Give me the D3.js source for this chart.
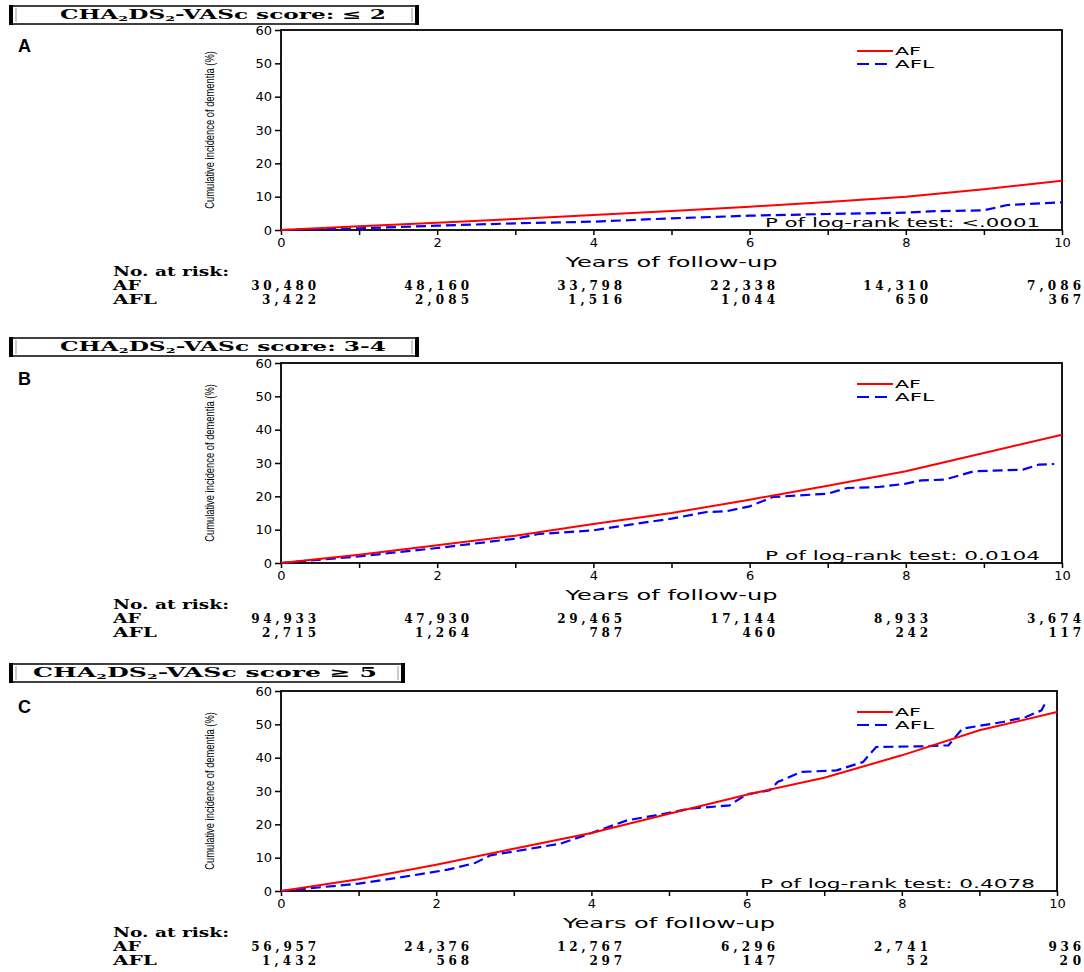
<!DOCTYPE html>
<html>
<head>
<meta charset="utf-8">
<script src="https://cdn.jsdelivr.net/npm/d3@7"></script>
<style>
  body { margin: 0; background: #fff; }
  text { fill: #000; }
</style>
</head>
<body>
<svg width="1084" height="972"></svg>
<script>
// panel labels and header endings
var panelLetters = ["A", "B", "C"];
var headerEnds = [": \u2264 2", ": 3-4", " \u2265 5"];
var pValues = ["P of log-rank test: <.0001", "P of log-rank test: 0.0104", "P of log-rank test: 0.4078"];

// x ticks / y ticks
var yearTicks = [0, 1, 2, 3, 4, 5, 6, 7, 8, 9, 10];
var pctTicks = [0, 10, 20, 30, 40, 50, 60];

// number at risk
var riskYears = [0, 2, 4, 6, 8, 10];
var riskAF_A = ["30,480", "48,160", "33,798", "22,338", "14,310", "7,086"];
var riskAFL_A = ["3,422", "2,085", "1,516", "1,044", "650", "367"];
var riskAF_B = ["94,933", "47,930", "29,465", "17,144", "8,933", "3,674"];
var riskAFL_B = ["2,715", "1,264", "787", "460", "242", "117"];
var riskAF_C = ["56,957", "24,376", "12,767", "6,296", "2,741", "936"];
var riskAFL_C = ["1,432", "568", "297", "147", "52", "20"];

// AF curves
var afYears = [0, 1, 2, 3, 4, 5, 6, 7, 8, 9, 10];
var afA = [0, 1.1, 2.2, 3.3, 4.5, 5.7, 7.0, 8.4, 10.0, 12.2, 14.8];
var afB = [0, 2.5, 5.3, 8.2, 11.7, 15.0, 19.0, 23.2, 27.5, 33.0, 38.5];
var afC = [0, 3.5, 7.9, 12.7, 17.4, 23.2, 28.9, 34.0, 40.7, 48.2, 53.7];

// AFL curves
var aflYearsA = [0, 1, 2, 3, 4, 4.5, 5, 6, 7, 8, 8.3, 9, 9.3, 10];
var aflA = [0, 0.5, 1.3, 2.0, 2.5, 3.0, 3.5, 4.3, 4.8, 5.2, 5.6, 5.9, 7.5, 8.3];
var aflYearsB = [0, 1, 2, 3, 3.3, 4, 4.55, 5, 5.45, 5.7, 6, 6.3, 7, 7.25, 7.65, 8, 8.2, 8.5, 8.87, 9.5, 9.7, 9.9];
var aflB = [0, 2.0, 4.5, 7.3, 8.7, 9.8, 11.8, 13.3, 15.3, 15.5, 17.0, 19.8, 20.8, 22.5, 22.8, 23.8, 24.8, 25.0, 27.5, 28, 29.5, 29.7];
var aflYearsC = [0, 1, 1.7, 2.15, 2.5, 2.7, 3.6, 4, 4.46, 4.83, 5.27, 5.78, 6, 6.3, 6.4, 6.7, 7.16, 7.5, 7.67, 8.24, 8.6, 8.78, 9.3, 9.6, 9.8, 9.85];
var aflC = [0, 2.2, 4.7, 6.4, 8.4, 10.7, 14.2, 17.4, 21.2, 22.7, 24.7, 25.7, 29, 30.2, 32.7, 35.7, 36.2, 38.7, 43.2, 43.4, 43.7, 48.7, 50.7, 52.2, 54.2, 56.4];

var panels = [
  { af: afA, aflX: aflYearsA, afl: aflA, rAF: riskAF_A, rAFL: riskAFL_A },
  { af: afB, aflX: aflYearsB, afl: aflB, rAF: riskAF_B, rAFL: riskAFL_B },
  { af: afC, aflX: aflYearsC, afl: aflC, rAF: riskAF_C, rAFL: riskAFL_C }
];

// layout for each panel
var plotTop = [30, 363, 691];
var plotRight = [1062, 1062, 1057];
var boxTop = [6, 338, 664];
var boxRight = [418, 418, 404];
var plotLeft = 281;
var plotH = 200;

var svg = d3.select("svg");
var sans = "'DejaVu Sans', sans-serif";
var serif = "'DejaVu Serif', serif";

panels.forEach(function (p, i) {
  var top = plotTop[i];
  var bottom = top + plotH;
  var g = svg.append("g");

  var x = d3.scaleLinear().domain([0, 10]).range([plotLeft, plotRight[i]]);
  var y = d3.scaleLinear().domain([0, 60]).range([bottom, top]);
  // columns of the risk table
  var riskX = d3.scaleLinear().domain([0, 10]).range([316, 1081]);

  // header box
  var bt = boxTop[i], br = boxRight[i];
  g.append("rect").attr("x", 10).attr("y", bt).attr("width", br - 10).attr("height", 18)
    .attr("fill", "none").attr("stroke", "#000").attr("stroke-width", 1.5);
  g.append("rect").attr("x", 9).attr("y", bt - 1).attr("width", 4).attr("height", 20).attr("fill", "#000");
  g.append("rect").attr("x", br - 3).attr("y", bt - 1).attr("width", 4).attr("height", 20).attr("fill", "#000");
  g.append("line").attr("x1", 16).attr("x2", 16).attr("y1", bt + 2).attr("y2", bt + 16)
    .attr("stroke", "#999").attr("stroke-width", 1);
  g.append("line").attr("x1", br - 6).attr("x2", br - 6).attr("y1", bt + 2).attr("y2", bt + 16)
    .attr("stroke", "#999").attr("stroke-width", 1);

  var ht = g.append("text").attr("x", i == 2 ? 33 : 60).attr("y", bt + 13)
    .attr("textLength", i == 2 ? 344 : 326).attr("lengthAdjust", "spacingAndGlyphs")
    .style("font-family", serif).style("font-weight", "bold").style("font-size", "13px");
  ht.append("tspan").text("CHA");
  ht.append("tspan").attr("dy", 2).style("font-size", "8px").text("2");
  ht.append("tspan").attr("dy", -2).text("DS");
  ht.append("tspan").attr("dy", 2).style("font-size", "8px").text("2");
  ht.append("tspan").attr("dy", -2).text("-VASc score" + headerEnds[i]);

  // panel letter
  g.append("text").attr("x", 18).attr("y", top + 22)
    .style("font-family", "'Liberation Sans', Arial, sans-serif").style("font-weight", "bold")
    .style("font-size", "18px").text(panelLetters[i]);

  // axes
  var xAxis = g.append("g").attr("transform", "translate(0," + bottom + ")")
    .call(d3.axisBottom(x).tickValues(yearTicks).tickSize(5).tickPadding(3)
      .tickFormat(function (d) { return d % 2 == 0 ? d : ""; }));
  var yAxis = g.append("g").attr("transform", "translate(" + plotLeft + ",0)")
    .call(d3.axisLeft(y).tickValues(pctTicks).tickSize(6).tickPadding(3));
  [xAxis, yAxis].forEach(function (a) {
    a.select(".domain").remove();
    a.selectAll("line").attr("stroke", "#000").attr("stroke-width", 1.5);
    a.selectAll("text").style("font-family", sans).style("font-size", "13px");
  });

  // frame
  g.append("rect").attr("x", plotLeft).attr("y", top)
    .attr("width", plotRight[i] - plotLeft).attr("height", plotH)
    .attr("fill", "none").attr("stroke", "#000").attr("stroke-width", 1.8);

  // axis titles (y title is narrow, so squeeze it along its length)
  g.append("text").attr("transform", "translate(214," + (top + plotH / 2) + ") rotate(-90) scale(0.75,1)")
    .attr("text-anchor", "middle")
    .style("font-family", "'Liberation Sans', Arial, sans-serif").style("font-size", "12.5px")
    .text("Cumulative incidence of dementia (%)");
  g.append("text").attr("x", (plotLeft + plotRight[i]) / 2).attr("y", bottom + 37)
    .attr("text-anchor", "middle").attr("textLength", 212).attr("lengthAdjust", "spacingAndGlyphs")
    .style("font-family", sans).style("font-size", "14px").text("Years of follow-up");

  // curves
  var line = d3.line().x(function (d) { return x(d[0]); }).y(function (d) { return y(d[1]); });
  g.append("path").datum(d3.zip(p.aflX, p.afl)).attr("d", line)
    .attr("fill", "none").attr("stroke", "#0000ff").attr("stroke-width", 2.2)
    .attr("stroke-dasharray", "10,5");
  g.append("path").datum(d3.zip(afYears, p.af)).attr("d", line)
    .attr("fill", "none").attr("stroke", "#ff0000").attr("stroke-width", 2);

  // legend
  var lx = 857;
  g.append("line").attr("x1", lx).attr("x2", lx + 36).attr("y1", top + 21).attr("y2", top + 21)
    .attr("stroke", "#ff0000").attr("stroke-width", 2);
  g.append("line").attr("x1", lx).attr("x2", lx + 36).attr("y1", top + 34).attr("y2", top + 34)
    .attr("stroke", "#0000ff").attr("stroke-width", 2.2).attr("stroke-dasharray", "12,6");
  g.append("text").attr("x", lx + 38).attr("y", top + 25).attr("textLength", 26)
    .attr("lengthAdjust", "spacingAndGlyphs").style("font-family", sans).style("font-size", "11px").text("AF");
  g.append("text").attr("x", lx + 38).attr("y", top + 38).attr("textLength", 39)
    .attr("lengthAdjust", "spacingAndGlyphs").style("font-family", sans).style("font-size", "11px").text("AFL");

  // p value
  g.append("text").attr("x", plotRight[i] - 22).attr("y", bottom - 3).attr("text-anchor", "end")
    .attr("textLength", 275).attr("lengthAdjust", "spacingAndGlyphs")
    .style("font-family", sans).style("font-size", "13px").text(pValues[i]);

  // number at risk table
  var rowFont = function (t) {
    t.style("font-family", serif).style("font-weight", "bold").style("font-size", "12px");
  };
  g.append("text").attr("x", 113).attr("y", bottom + 46).attr("textLength", 116)
    .attr("lengthAdjust", "spacingAndGlyphs").call(rowFont).text("No. at risk:");
  g.append("text").attr("x", 113).attr("y", bottom + 60).attr("textLength", 28)
    .attr("lengthAdjust", "spacingAndGlyphs").call(rowFont).text("AF");
  g.append("text").attr("x", 113).attr("y", bottom + 74).attr("textLength", 44)
    .attr("lengthAdjust", "spacingAndGlyphs").call(rowFont).text("AFL");

  [[p.rAF, 60], [p.rAFL, 74]].forEach(function (row) {
    g.selectAll(null).data(row[0]).enter().append("text")
      .attr("x", function (d, j) { return riskX(riskYears[j]); })
      .attr("y", bottom + row[1])
      .attr("text-anchor", "end")
      .attr("textLength", function (d) { return d.length * 10.8; })
      .attr("lengthAdjust", "spacing")
      .call(rowFont)
      .text(function (d) { return d; });
  });
});
</script>
</body>
</html>
